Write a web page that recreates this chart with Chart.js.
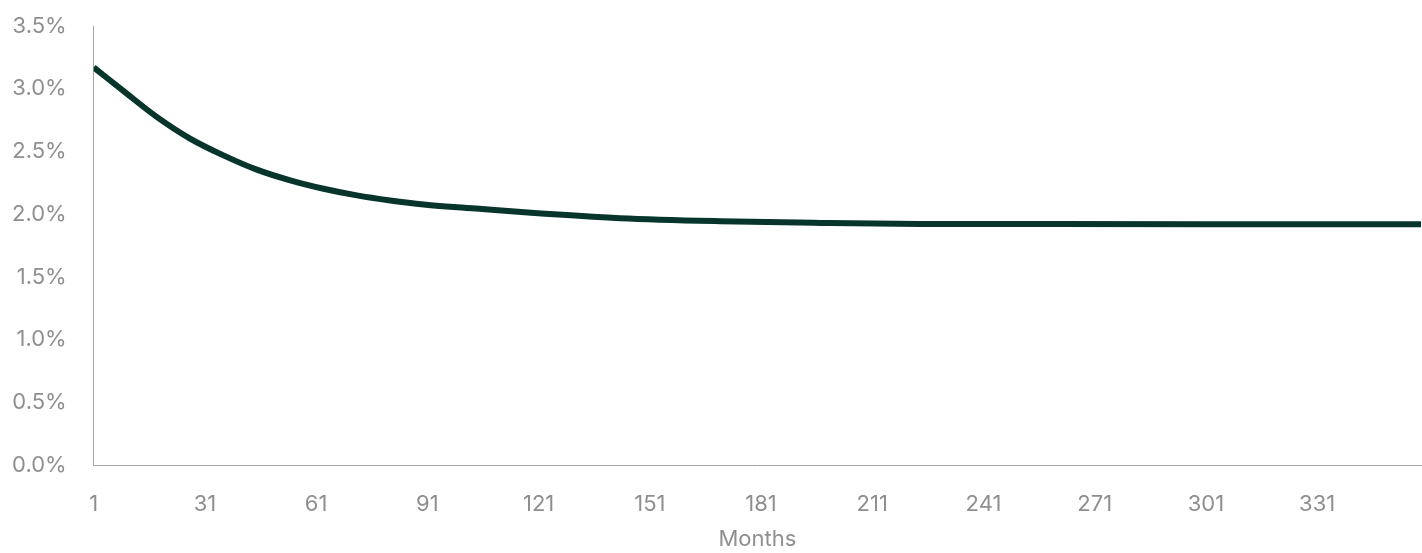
<!DOCTYPE html>
<html>
<head>
<meta charset="utf-8">
<script src="https://cdn.jsdelivr.net/npm/chart.js@4.4.0/dist/chart.umd.min.js"></script>
<style>
  html, body { margin: 0; padding: 0; background: #fff; }
  #wrap { width: 1422px; height: 553px; position: relative; }
</style>
</head>
<body>
<div id="wrap"><canvas id="chart"></canvas></div>
<script>
// months where the curve was read, and the rate (%) at each
const months = [1, 9, 18, 27, 36, 45, 54, 63, 72, 81, 90, 105, 119, 143, 170, 197, 224, 260, 300, 360]
const rates = [3.17, 2.983, 2.776, 2.603, 2.469, 2.355, 2.27, 2.203, 2.15, 2.11, 2.078, 2.043, 2.011, 1.968, 1.944, 1.931, 1.923, 1.922, 1.921, 1.92]
const xTicks = [1, 31, 61, 91, 121, 151, 181, 211, 241, 271, 301, 331]
const yTicks = [0, 0.5, 1, 1.5, 2, 2.5, 3, 3.5]

const grey = '#8f8f8f'
const font = { family: 'Inter', size: 22 }

const ctx = document.getElementById('chart').getContext('2d')
new Chart(ctx, {
    type: 'line',
    data: {
        datasets: [
            {
                label: 'Rate',
                data: months.map((m, i) => ({ x: m, y: rates[i] })),
                borderColor: '#07352b',
                borderWidth: 6,
                pointRadius: 0,
                cubicInterpolationMode: 'monotone',
                fill: false,
            },
        ],
    },
    options: {
        responsive: true,
        maintainAspectRatio: false,
        animation: false,
        layout: { padding: { top: 0, right: 1, left: -15, bottom: 0 } },
        plugins: { legend: { display: false }, tooltip: { enabled: false } },
        scales: {
            x: {
                type: 'linear',
                min: 1,
                max: 359,
                afterBuildTicks: (scale) => {
                    scale.ticks = xTicks.map((v) => ({ value: v }))
                },
                grid: { display: false, drawTicks: false },
                border: { display: true, color: '#a6a6a6', width: 1 },
                ticks: { color: grey, font: font, padding: 26, maxRotation: 0, autoSkip: false },
                title: { display: true, text: 'Months', color: grey, font: font, padding: { top: -17, bottom: 0 } },
            },
            y: {
                min: 0,
                max: 3.5,
                afterBuildTicks: (scale) => {
                    scale.ticks = yTicks.map((v) => ({ value: v }))
                },
                afterFit: (scale) => {
                    scale.paddingTop = 26
                },
                grid: { display: false, drawTicks: false },
                border: { display: true, color: '#a6a6a6', width: 1 },
                ticks: {
                    color: grey,
                    font: font,
                    padding: 27,
                    callback: (v) => v.toFixed(1) + '%',
                },
            },
        },
    },
})
</script>
</body>
</html>
